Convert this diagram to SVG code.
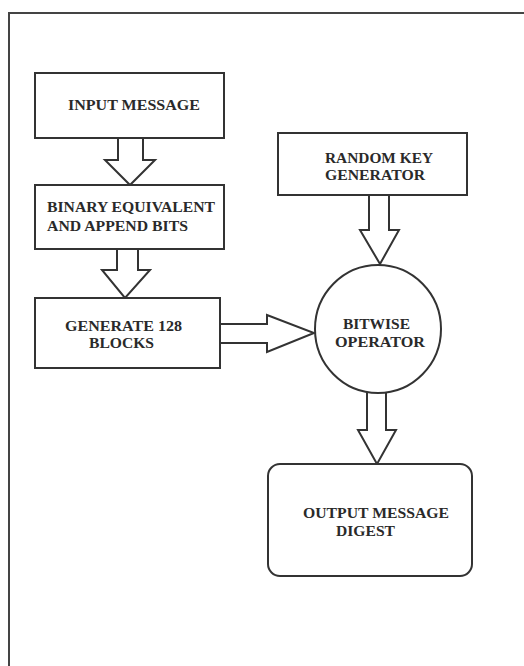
<svg xmlns="http://www.w3.org/2000/svg" width="524" height="666" viewBox="0 0 524 666">
<style>
.box{fill:#fff;stroke:#333;stroke-width:2}
.arr{fill:#fff;stroke:#333;stroke-width:2;stroke-linejoin:miter}
.t{font-family:"Liberation Serif","Times New Roman",serif;font-weight:bold;font-size:15px;fill:#2a2a2a}
</style>
<rect width="524" height="666" fill="#fff"/>
<path d="M9,666 V13 H524" fill="none" stroke="#444" stroke-width="2"/>
<g id="connectors">
<polygon class="arr" points="118,138 118,160 105,160 130,185 155,160 143,160 143,138"/>
<polygon class="arr" points="117,249 117,270 102,270 125,298 150,270 138,270 138,249"/>
<polygon class="arr" points="369,195 369,230 360,230 380,264 399,230 389,230 389,195"/>
<polygon class="arr" points="367,385 367,430 358,430 377,464 396,430 386,430 386,385"/>
<polygon class="arr" points="220,324 267,324 267,315 314,333 267,352 267,343 220,343"/>
</g>
<g id="input">
<rect class="box" x="35" y="73" width="189" height="65"/>
<text class="t" x="68" y="110" textLength="132" lengthAdjust="spacingAndGlyphs">INPUT  MESSAGE</text>
</g>
<g id="binary">
<rect class="box" x="35" y="185" width="189" height="64"/>
<text class="t" x="47" y="212" textLength="168" lengthAdjust="spacingAndGlyphs">BINARY EQUIVALENT</text>
<text class="t" x="47" y="231" textLength="141" lengthAdjust="spacingAndGlyphs">AND APPEND BITS</text>
</g>
<g id="generate">
<rect class="box" x="35" y="298" width="185" height="70"/>
<text class="t" x="65" y="331" textLength="117" lengthAdjust="spacingAndGlyphs">GENERATE 128</text>
<text class="t" x="89" y="348" textLength="65" lengthAdjust="spacingAndGlyphs">BLOCKS</text>
</g>
<g id="random">
<rect class="box" x="278" y="133" width="189" height="62"/>
<text class="t" x="325" y="163" textLength="108" lengthAdjust="spacingAndGlyphs">RANDOM KEY</text>
<text class="t" x="325" y="180" textLength="100" lengthAdjust="spacingAndGlyphs">GENERATOR</text>
</g>
<g id="bitwise">
<ellipse class="box" cx="378" cy="329" rx="63" ry="64"/>
<text class="t" x="343" y="329" textLength="67" lengthAdjust="spacingAndGlyphs">BITWISE</text>
<text class="t" x="335" y="347" textLength="90" lengthAdjust="spacingAndGlyphs">OPERATOR</text>
</g>
<g id="output">
<rect class="box" x="268" y="464" width="204" height="112" rx="12"/>
<text class="t" x="303" y="518" textLength="146" lengthAdjust="spacingAndGlyphs">OUTPUT MESSAGE</text>
<text class="t" x="336" y="536" textLength="59" lengthAdjust="spacingAndGlyphs">DIGEST</text>
</g>
</svg>
